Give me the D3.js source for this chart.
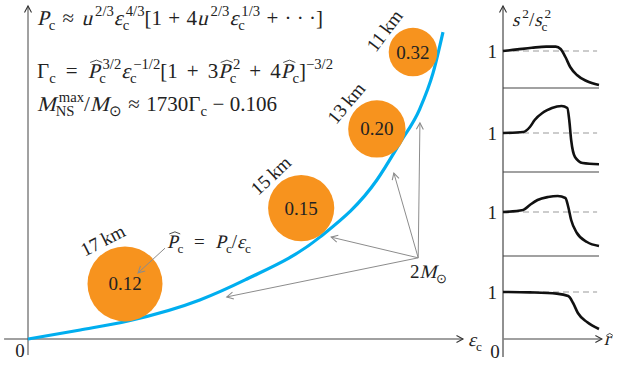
<!DOCTYPE html>
<html>
<head>
<meta charset="utf-8">
<script src="https://cdn.jsdelivr.net/npm/d3@7"></script>
<style>
  body { margin: 0; background: #fff; }
  svg { display: block; }
</style>
</head>
<body>
<div id="chart"></div>
<script>
// central energy density vs central pressure (schematic units)
var curveEps = [0, 12, 23, 39.5, 49.9, 67.1, 80.2, 85.5, 90.1, 93.1, 95.4];
var curvePres = [0, 2.7, 5.4, 11.7, 17.7, 30.5, 47.6, 58.7, 69.0, 79.6, 91.9];

// stars along the curve
var starEps = [22.3, 62.8, 80.2, 88.5];
var starPres = [16.5, 39.2, 62.9, 85.9];
var starKm = [17, 15, 13, 11];
var starPhat = ["0.12", "0.15", "0.20", "0.32"];

// 2 Msun arrows
var massEps = 89.7, massPres = 24.3;
var massToEps = [90.1, 84.1, 69.7, 45.7];
var massToPres = [64.7, 49.7, 30.5, 12.6];

// Phat label arrow
var phatFrom = [31.5, 27.2];
var phatTo = [25.3, 19.8];

// sound speed profiles s^2/s_c^2 vs r hat, one per panel (top to bottom)
var profile1R = [0, 0.15, 0.3, 0.45, 0.55, 0.6, 0.65, 0.7, 0.77, 0.87, 1.0];
var profile1S = [1.0, 1.04, 1.08, 1.11, 1.11, 1.05, 0.85, 0.6, 0.4, 0.25, 0.15];
var profile2R = [0, 0.21, 0.28, 0.33, 0.41, 0.46, 0.51, 0.61, 0.67, 0.69, 0.71, 0.75, 0.83, 1.0];
var profile2S = [1.0, 1.025, 1.15, 1.325, 1.5, 1.57, 1.625, 1.675, 1.625, 1.325, 0.825, 0.4, 0.25, 0.22];
var profile3R = [0, 0.21, 0.28, 0.36, 0.47, 0.57, 0.65, 0.68, 0.71, 0.77, 0.875, 1.0];
var profile3S = [1.0, 1.05, 1.175, 1.3, 1.375, 1.4, 1.35, 1.125, 0.8, 0.475, 0.25, 0.15];
var profile4R = [0, 0.28, 0.56, 0.68, 0.73, 0.78, 0.875, 1.0];
var profile4S = [1.0, 0.99, 0.96, 0.9, 0.725, 0.475, 0.25, 0.075];
var panelFloor = [0.075, 0.025, -0.1, -0.175];

var WIDTH = 619, HEIGHT = 369;
var FS = 19, FORMULA_FS = 21;
var ORANGE = "#f7931e", BLUE = "#00aeef", INK = "#222";

var svg = d3.select("#chart").append("svg")
    .attr("width", WIDTH)
    .attr("height", HEIGHT)
    .attr("font-family", "Liberation Serif")
    .attr("fill", INK);

var defs = svg.append("defs");
function addMarker(id, color) {
    defs.append("marker")
        .attr("id", id)
        .attr("viewBox", "-8 -5 10 10")
        .attr("refX", 0).attr("refY", 0)
        .attr("markerWidth", 10).attr("markerHeight", 10)
        .attr("markerUnits", "userSpaceOnUse")
        .attr("orient", "auto")
        .append("path")
        .attr("d", "M-6.5,-3.5L0,0L-6.5,3.5")
        .attr("fill", "none")
        .attr("stroke", color)
        .attr("stroke-width", 1.1);
}
addMarker("grayArrow", "#8c8c8c");
addMarker("darkArrow", "#333");

// little math typesetter: tokens of {t, it, sub, sup, hat, pad}
// no serif italic face is installed, so italics are slanted by hand
function layoutMath(parent, x, y, tokens, fs, extra) {
    var cx = x;
    tokens.forEach(function(tk) {
        var side = tk.pad !== undefined ? tk.pad * fs + extra : 0;
        cx += side;
        var main = parent.append("text")
            .attr("transform", "translate(" + cx + "," + y + ")" + (tk.it ? " skewX(-14)" : ""))
            .attr("font-size", fs)
            .text(tk.t);
        var w = main.node().getComputedTextLength();
        if (tk.hat) {
            var top = tk.hat === "low" ? 0.5 : 0.74;
            parent.append("path")
                .attr("d", "M" + (cx + 0.12 * fs) + "," + (y - top * fs) +
                    "L" + (cx + w / 2 + 0.14 * fs) + "," + (y - (top + 0.11) * fs) +
                    "L" + (cx + w + 0.14 * fs) + "," + (y - top * fs))
                .attr("fill", "none").attr("stroke", INK).attr("stroke-width", 0.8);
        }
        var sw = 0, pw = 0;
        if (tk.sub) {
            var s = parent.append("text")
                .attr("x", cx + w).attr("y", y + 0.25 * fs)
                .attr("font-size", fs * 0.7)
                .text(tk.sub);
            sw = s.node().getComputedTextLength();
        }
        if (tk.sup) {
            var off = tk.it ? 0.15 * fs : 0;
            var p = parent.append("text")
                .attr("x", cx + w + off).attr("y", y - 0.42 * fs)
                .attr("font-size", fs * 0.7)
                .text(tk.sup);
            pw = p.node().getComputedTextLength() + off;
        }
        cx += w + Math.max(sw, pw) + side;
    });
    return cx - x;
}

// lay out once to measure, then widen the space round the operators
function mathLine(parent, x, y, tokens, fs, width) {
    var g = parent.append("g");
    var natural = layoutMath(g, x, y, tokens, fs, 0);
    var ops = tokens.filter(function(tk) { return tk.pad !== undefined; }).length;
    if (width && ops && natural < width) {
        g.selectAll("*").remove();
        layoutMath(g, x, y, tokens, fs, (width - natural) / (2 * ops));
    }
    return g;
}

var REL = 0.25, BIN = 0.2;

// ---------- main panel ----------
var x = d3.scaleLinear().domain([0, 100]).range([28, 463]);
var y = d3.scaleLinear().domain([0, 100]).range([339, 5]);

var main = svg.append("g").attr("class", "main");

main.append("line")
    .attr("x1", x(-5.5)).attr("x2", x(100))
    .attr("y1", y(0)).attr("y2", y(0))
    .attr("stroke", "#808080").attr("stroke-width", 1.5)
    .attr("marker-end", "url(#darkArrow)");
main.append("line")
    .attr("x1", x(0)).attr("x2", x(0))
    .attr("y1", y(-4.8)).attr("y2", y(99.7))
    .attr("stroke", "#444").attr("stroke-width", 1)
    .attr("marker-end", "url(#darkArrow)");

main.append("text").attr("x", 20).attr("y", 357)
    .attr("font-size", FS).attr("text-anchor", "middle").text("0");
mathLine(main, 468, 346, [{t: "ε", it: true, sub: "c"}], FS);

var line = d3.line()
    .x(function(d) { return x(d[0]); })
    .y(function(d) { return y(d[1]); })
    .curve(d3.curveMonotoneX);

main.append("path")
    .datum(d3.zip(curveEps, curvePres))
    .attr("d", line)
    .attr("fill", "none")
    .attr("stroke", BLUE)
    .attr("stroke-width", 3.2);

var rScale = d3.scaleLinear().domain([0, 17]).range([0, 37.5]);
var labelAngle = [-117, -133, -140, -143];

var stars = main.selectAll("g.star")
    .data(d3.range(starEps.length))
    .enter().append("g").attr("class", "star");

stars.append("circle")
    .attr("cx", function(i) { return x(starEps[i]); })
    .attr("cy", function(i) { return y(starPres[i]); })
    .attr("r", function(i) { return rScale(starKm[i]); })
    .attr("fill", ORANGE);

stars.append("text")
    .attr("x", function(i) { return x(starEps[i]); })
    .attr("y", function(i) { return y(starPres[i]) + 6.5; })
    .attr("text-anchor", "middle")
    .attr("font-size", FS)
    .text(function(i) { return starPhat[i]; });

stars.append("text")
    .attr("transform", function(i) {
        var a = labelAngle[i] * Math.PI / 180;
        var d = rScale(starKm[i]) + 11;
        var cx = x(starEps[i]) + d * Math.cos(a);
        var cy = y(starPres[i]) + d * Math.sin(a);
        return "translate(" + cx + "," + cy + ") rotate(" + (labelAngle[i] + 90) + ")";
    })
    .attr("y", 6)
    .attr("text-anchor", "middle")
    .attr("font-size", FS)
    .text(function(i) { return starKm[i] + "\u2009km"; });

// annotation arrows
main.selectAll("line.mass")
    .data(d3.range(massToEps.length))
    .enter().append("line").attr("class", "mass")
    .attr("x1", x(massEps)).attr("y1", y(massPres))
    .attr("x2", function(i) { return x(massToEps[i]); })
    .attr("y2", function(i) { return y(massToPres[i]); })
    .attr("stroke", "#8c8c8c").attr("stroke-width", 1)
    .attr("marker-end", "url(#grayArrow)");

main.append("line")
    .attr("x1", x(phatFrom[0])).attr("y1", y(phatFrom[1]))
    .attr("x2", x(phatTo[0])).attr("y2", y(phatTo[1]))
    .attr("stroke", "#8c8c8c").attr("stroke-width", 1)
    .attr("marker-end", "url(#grayArrow)");

mathLine(main, 410, 278, [{t: "2"}, {t: "M", it: true, sub: "⊙"}], FS);
mathLine(main, 167, 248, [
    {t: "P", it: true, hat: true, sub: "c"},
    {t: "=", pad: REL},
    {t: "P", it: true, sub: "c"},
    {t: "/"},
    {t: "ε", it: true, sub: "c"}
], FS, 84);

// formulas
mathLine(main, 37, 25, [
    {t: "P", it: true, sub: "c"},
    {t: "≈", pad: REL},
    {t: "u", it: true, sup: "2/3"},
    {t: "ε", it: true, sub: "c", sup: "4/3"},
    {t: "[1"},
    {t: "+", pad: BIN},
    {t: "4"},
    {t: "u", it: true, sup: "2/3"},
    {t: "ε", it: true, sub: "c", sup: "1/3"},
    {t: "+", pad: BIN},
    {t: "· · ·]"}
], FORMULA_FS, 286);
mathLine(main, 37, 78, [
    {t: "Γ", sub: "c"},
    {t: "=", pad: REL},
    {t: "P", it: true, hat: true, sub: "c", sup: "3/2"},
    {t: "ε", it: true, sub: "c", sup: "−1/2"},
    {t: "[1"},
    {t: "+", pad: BIN},
    {t: "3"},
    {t: "P", it: true, hat: true, sub: "c", sup: "2"},
    {t: "+", pad: BIN},
    {t: "4"},
    {t: "P", it: true, hat: true, sub: "c"},
    {t: "]", sup: "−3/2"}
], FORMULA_FS, 296);
mathLine(main, 37, 111, [
    {t: "M", it: true, sub: "NS", sup: "max"},
    {t: "/"},
    {t: "M", it: true, sub: "⊙"},
    {t: "≈", pad: REL},
    {t: "1730"},
    {t: "Γ", sub: "c"},
    {t: "−", pad: BIN},
    {t: "0.106"}
], FORMULA_FS, 240);

// ---------- right panels ----------
var rx = d3.scaleLinear().domain([0, 1]).range([503, 599]);
var panelBottom = [88, 172, 256, 339];
var PANEL_H = 84;
var profiles = [
    d3.zip(profile1R, profile1S),
    d3.zip(profile2R, profile2S),
    d3.zip(profile3R, profile3S),
    d3.zip(profile4R, profile4S)
];

var side = svg.append("g").attr("class", "side");

side.append("line")
    .attr("x1", rx(0)).attr("x2", rx(0))
    .attr("y1", 357).attr("y2", 6)
    .attr("stroke", "#222").attr("stroke-width", 1)
    .attr("marker-end", "url(#darkArrow)");
side.append("line")
    .attr("x1", rx(0)).attr("x2", rx(1.03))
    .attr("y1", panelBottom[3]).attr("y2", panelBottom[3])
    .attr("stroke", "#808080").attr("stroke-width", 1.5)
    .attr("marker-end", "url(#darkArrow)");

profiles.forEach(function(prof, k) {
    var py = d3.scaleLinear()
        .domain([panelFloor[k], panelFloor[k] + PANEL_H / 40])
        .range([panelBottom[k], panelBottom[k] - PANEL_H]);
    if (k < 3) {
        side.append("line")
            .attr("x1", rx(0)).attr("x2", rx(1))
            .attr("y1", panelBottom[k]).attr("y2", panelBottom[k])
            .attr("stroke", "#444").attr("stroke-width", 1.2);
    }
    side.append("line")
        .attr("x1", rx(0)).attr("x2", rx(0.98))
        .attr("y1", py(1)).attr("y2", py(1))
        .attr("stroke", "#999").attr("stroke-width", 1)
        .attr("stroke-dasharray", "6,4");
    side.append("text")
        .attr("x", 497).attr("y", py(1) + 6.5)
        .attr("text-anchor", "end")
        .attr("font-size", FS)
        .text("1");
    side.append("path")
        .datum(prof)
        .attr("d", d3.line()
            .x(function(d) { return rx(d[0]); })
            .y(function(d) { return py(d[1]); })
            .curve(d3.curveMonotoneX))
        .attr("fill", "none")
        .attr("stroke", "#111")
        .attr("stroke-width", 2.6);
});

side.append("text").attr("x", 495).attr("y", 358)
    .attr("font-size", FS).attr("text-anchor", "middle").text("0");
mathLine(side, 604, 345, [{t: "r", it: true, hat: "low"}], FS);
mathLine(side, 512, 26, [
    {t: "s", it: true, sup: "2"},
    {t: "/"},
    {t: "s", it: true, sub: "c", sup: "2"}
], FS);
</script>
</body>
</html>
